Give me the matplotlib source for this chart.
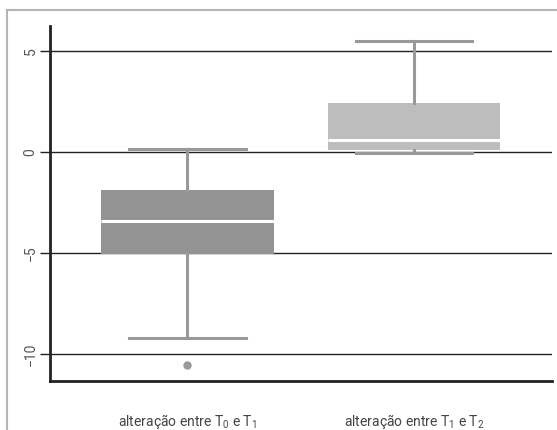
import matplotlib
matplotlib.use("Agg")
import matplotlib.pyplot as plt
from matplotlib.lines import Line2D

# box statistics
labels = [r"alteração entre $\mathregular{T_0}$ e $\mathregular{T_1}$",
          r"alteração entre $\mathregular{T_1}$ e $\mathregular{T_2}$"]
whislo = [-9.2, -0.07]
q1 = [-5.05, 0.1]
med = [-3.42, 0.58]
q3 = [-1.88, 2.44]
whishi = [0.15, 5.5]
fliers = [[-10.55], []]
box_colors = ["#939393", "#bdbdbd"]

plt.rcParams["font.family"] = ["Roboto", "DejaVu Sans"]

fig = plt.figure(figsize=(5.57, 4.30), dpi=100)
ax = fig.add_axes([50 / 557, 1 - 381 / 430, 502 / 557, 355 / 430])

stats = []
for i in range(2):
    stats.append({"whislo": whislo[i], "q1": q1[i], "med": med[i],
                  "q3": q3[i], "whishi": whishi[i], "fliers": fliers[i]})

bp = ax.bxp(stats, positions=[1, 2], widths=0.762, capwidths=0.515,
            patch_artist=True, showfliers=True,
            boxprops=dict(linewidth=0),
            whiskerprops=dict(color="#999999", linewidth=2.2),
            capprops=dict(color="#999999", linewidth=2.2),
            medianprops=dict(color="white", linewidth=2.2),
            flierprops=dict(marker="o", markerfacecolor="#999999",
                            markeredgecolor="#999999", markersize=5))
for patch, c in zip(bp["boxes"], box_colors):
    patch.set_facecolor(c)
    patch.set_edgecolor(c)

ax.set_xlim(0.396, 2.608)
ax.set_ylim(-11.34, 6.24)
ax.set_yticks([-10, -5, 0, 5])
ax.set_yticklabels(["\u221210", "\u22125", "0", "5"], rotation=90,
                   va="center", fontsize=10, color="#555555")
ax.set_xticks([1, 2])
ax.set_xticklabels(labels, fontsize=10, color="#444444")
ax.tick_params(axis="x", length=0, pad=22)
ax.tick_params(axis="y", length=7, width=1.0, color="#222222", pad=2)

ax.yaxis.grid(True, color="#222222", linewidth=1.0)
ax.set_axisbelow(True)
for s in ["top", "right"]:
    ax.spines[s].set_visible(False)
for s in ["left", "bottom"]:
    ax.spines[s].set_linewidth(2.0)
    ax.spines[s].set_color("#222222")

# thin grey frame seen on the top and left edges
fig.add_artist(Line2D([7 / 557, 7 / 557], [0, 1 - 10 / 430],
                      transform=fig.transFigure, color="#b5b5b5", linewidth=1.5))
fig.add_artist(Line2D([7 / 557, 1], [1 - 10 / 430, 1 - 10 / 430],
                      transform=fig.transFigure, color="#b5b5b5", linewidth=1.5))

fig.savefig("out.png", dpi=100)
